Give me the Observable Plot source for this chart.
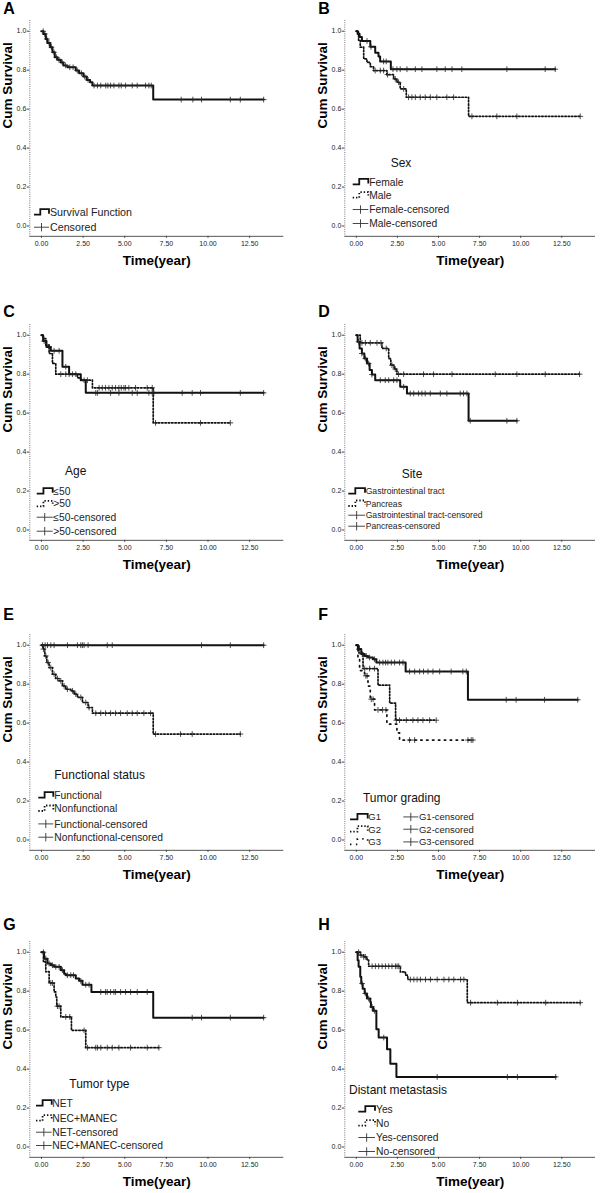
<!DOCTYPE html>
<html><head><meta charset="utf-8">
<script src="https://cdn.jsdelivr.net/npm/d3@7"></script>
<script src="https://cdn.jsdelivr.net/npm/@observablehq/plot@0.6"></script>
<style>
body{margin:0;background:#fff;overflow:hidden}
#root{position:relative;width:600px;height:1193px;overflow:hidden;background:#fff}
.panel{position:absolute}
</style></head><body><div id="root"></div>
<script>
// ---------- axes ----------
const xTicks = [0, 2.5, 5, 7.5, 10, 12.5];
const yTicks = [0, 0.2, 0.4, 0.6, 0.8, 1.0];
const xDomain = [-0.7, 14.55];
const yDomain = [-0.053, 1.055];

// ---------- Panel A: all patients ----------
const A_all_time = [0, 0.12, 0.26, 0.36, 0.52, 0.66, 0.80, 0.96, 1.16, 1.32, 1.56, 2.06, 2.26, 2.52, 2.72, 2.92, 3.06, 6.71];
const A_all_surv = [1.0, 0.986, 0.96, 0.94, 0.918, 0.892, 0.866, 0.853, 0.84, 0.824, 0.815, 0.798, 0.784, 0.767, 0.75, 0.738, 0.721, 0.649];
const A_all_cens = [0.1, 0.2, 0.32, 0.45, 0.6, 0.75, 0.9, 1.05, 1.25, 1.45, 1.7, 1.9, 2.15, 2.4, 2.6, 2.8, 3.16, 3.36, 3.56, 3.86, 3.99, 4.15, 4.35, 4.65, 4.79, 5.05, 5.45, 5.75, 6.25, 6.45, 6.59, 8.39, 9.09, 9.61, 11.34, 11.94, 13.34];

// ---------- Panel B: sex ----------
const B_female_time = [0, 0.08, 0.2, 0.34, 0.85, 1.15, 1.35, 1.45, 2.1];
const B_female_surv = [1.0, 0.986, 0.97, 0.95, 0.92, 0.89, 0.87, 0.845, 0.805];
const B_female_cens = [0.65, 0.89, 1.66, 1.82, 2.23, 2.47, 2.67, 3.08, 3.59, 3.99, 4.9, 5.41, 5.82, 6.42, 9.16, 11.49, 12.1];
const B_male_time = [0, 0.14, 0.24, 0.45, 0.65, 0.85, 1.05, 1.86, 2.27, 2.47, 2.67, 3.04, 6.83];
const B_male_surv = [1.0, 0.952, 0.918, 0.858, 0.84, 0.818, 0.798, 0.777, 0.755, 0.738, 0.704, 0.661, 0.563];
const B_male_cens = [1.15, 1.46, 1.66, 1.9, 2.37, 2.57, 2.88, 3.18, 3.38, 3.59, 3.89, 4.19, 4.5, 4.9, 5.51, 5.92, 7.03, 8.55, 9.77, 13.62];

// ---------- Panel C: age ----------
const C_le50_time = [0, 0.1, 0.3, 0.56, 1.26, 1.66, 2.36, 2.66];
const C_le50_surv = [1.0, 0.97, 0.94, 0.92, 0.838, 0.80, 0.769, 0.704];
const C_le50_cens = [0.16, 0.46, 0.76, 1.06, 1.46, 2.06, 3.26, 3.36, 4.15, 4.65, 5.45, 5.75, 6.45, 6.65, 6.75, 8.45, 9.05, 9.55, 11.94, 13.34];
const C_gt50_time = [0, 0.12, 0.26, 0.46, 0.66, 0.86, 2.16, 2.36, 3.06, 6.71];
const C_gt50_surv = [1.0, 0.983, 0.949, 0.906, 0.855, 0.80, 0.781, 0.769, 0.73, 0.55];
const C_gt50_cens = [1.16, 1.46, 1.66, 1.86, 2.56, 2.76, 3.46, 3.65, 3.85, 4.05, 4.25, 4.45, 4.65, 4.79, 4.95, 5.05, 5.25, 5.65, 6.35, 6.65, 6.85, 9.55, 11.34];

// ---------- Panel D: site ----------
const D_gi_time = [0, 0.08, 0.2, 0.34, 0.49, 0.65, 0.81, 0.95, 1.15, 2.67, 3.08, 6.83];
const D_gi_surv = [1.0, 0.966, 0.932, 0.906, 0.88, 0.855, 0.821, 0.798, 0.769, 0.735, 0.701, 0.561];
const D_gi_cens = [0.14, 0.34, 0.55, 0.75, 0.95, 1.46, 1.76, 1.97, 2.27, 2.47, 2.88, 3.28, 3.49, 3.79, 3.99, 4.19, 4.5, 5.11, 5.51, 6.32, 6.52, 6.73, 6.93, 9.16, 9.77];
const D_panc_time = [0, 0.24, 1.56, 1.97, 2.1, 2.3, 2.47];
const D_panc_surv = [1.0, 0.961, 0.932, 0.88, 0.846, 0.826, 0.80];
const D_panc_cens = [0.34, 0.55, 0.85, 1.26, 1.5, 1.82, 2.17, 2.37, 2.57, 2.88, 4.09, 4.7, 5.82, 8.45, 9.77, 11.49, 13.58];

// ---------- Panel E: functional status ----------
const E_func_time = [0];
const E_func_surv = [1.0];
const E_func_cens = [0.06, 0.22, 0.36, 0.56, 0.76, 1.56, 2.16, 2.36, 2.46, 2.56, 2.8, 3.95, 4.25, 9.61, 11.34, 13.34];
const E_nonf_time = [0, 0.1, 0.2, 0.32, 0.46, 0.66, 0.86, 1.06, 1.26, 1.46, 1.76, 1.96, 2.16, 2.46, 2.8, 3.06, 6.71];
const E_nonf_surv = [1.0, 0.98, 0.945, 0.911, 0.885, 0.851, 0.829, 0.817, 0.791, 0.774, 0.766, 0.749, 0.732, 0.706, 0.68, 0.651, 0.544];
const E_nonf_cens = [0.12, 0.26, 0.4, 0.56, 0.76, 0.96, 1.16, 1.36, 1.56, 1.86, 2.06, 2.36, 2.66, 2.86, 3.26, 3.56, 3.85, 4.15, 4.45, 4.75, 5.15, 5.45, 5.75, 6.15, 6.55, 6.85, 8.35, 9.05, 11.94];

// ---------- Panel F: tumor grading ----------
const F_g1_time = [0, 0.1, 0.3, 0.51, 0.71, 1.01, 1.22, 3.0, 6.79];
const F_g1_surv = [1.0, 0.98, 0.955, 0.945, 0.937, 0.928, 0.911, 0.865, 0.72];
const F_g1_cens = [0.16, 0.36, 0.61, 0.81, 1.11, 1.42, 1.62, 1.78, 1.92, 2.13, 2.33, 2.63, 2.84, 3.24, 3.55, 3.85, 4.09, 4.36, 4.66, 5.07, 5.77, 6.48, 6.69, 9.12, 9.72, 11.45, 13.47];
const F_g2_time = [0, 0.16, 0.41, 1.32, 2.03, 2.39];
const F_g2_surv = [1.0, 0.96, 0.88, 0.795, 0.703, 0.615];
const F_g2_cens = [0.51, 0.81, 1.11, 2.43, 2.63, 3.04, 3.44, 3.75, 4.05, 4.46, 4.86];
const F_g3_time = [0, 0.1, 0.2, 0.5, 0.71, 0.85, 1.11, 1.86, 2.47, 2.63];
const F_g3_surv = [1.0, 0.93, 0.87, 0.843, 0.79, 0.723, 0.668, 0.595, 0.55, 0.513];
const F_g3_cens = [0.58, 0.66, 0.91, 1.02, 1.32, 1.6, 1.8, 3.24, 3.55, 6.79, 6.99, 7.09];

// ---------- Panel G: tumor type ----------
const G_net_time = [0, 0.16, 0.36, 0.56, 0.76, 1.16, 1.36, 1.46, 2.06, 2.26, 2.46, 3.0, 6.71];
const G_net_surv = [1.0, 0.967, 0.942, 0.933, 0.925, 0.908, 0.89, 0.882, 0.865, 0.853, 0.833, 0.796, 0.664];
const G_net_cens = [0.12, 0.26, 0.46, 0.66, 0.86, 1.06, 1.26, 1.56, 1.76, 1.92, 2.36, 2.66, 2.86, 3.56, 3.85, 3.95, 4.15, 4.35, 4.45, 4.75, 5.05, 5.35, 5.75, 6.35, 9.05, 9.61, 11.34, 13.34];
const G_nec_time = [0, 0.12, 0.26, 0.46, 0.76, 0.86, 0.92, 1.16, 1.8, 2.66];
const G_nec_surv = [1.0, 0.95, 0.9, 0.842, 0.796, 0.77, 0.723, 0.668, 0.599, 0.51];
const G_nec_cens = [0.56, 0.66, 0.96, 1.06, 1.46, 1.7, 2.56, 2.76, 3.26, 3.36, 3.56, 3.95, 4.25, 4.65, 5.35, 6.35, 7.05];

// ---------- Panel H: distant metastasis ----------
const H_yes_time = [0, 0.08, 0.14, 0.24, 0.3, 0.39, 0.51, 0.65, 0.85, 0.89, 1.02, 1.22, 1.36, 1.87, 2.07, 2.44];
const H_yes_surv = [1.0, 0.959, 0.925, 0.874, 0.839, 0.813, 0.788, 0.762, 0.745, 0.719, 0.699, 0.604, 0.562, 0.502, 0.428, 0.36];
const H_yes_cens = [0.35, 0.55, 0.75, 0.96, 1.1, 1.67, 4.92, 9.19, 9.8, 12.13];
const H_no_time = [0, 0.24, 0.45, 0.65, 0.75, 2.68, 2.99, 3.13, 6.75];
const H_no_surv = [1.0, 0.985, 0.976, 0.959, 0.928, 0.899, 0.882, 0.86, 0.741];
const H_no_cens = [0.14, 0.28, 0.45, 0.55, 0.96, 1.16, 1.36, 1.57, 1.77, 1.97, 2.17, 2.38, 2.48, 2.58, 3.29, 3.5, 3.7, 3.9, 4.21, 4.51, 4.92, 5.33, 5.63, 5.93, 6.34, 6.54, 6.95, 8.58, 9.8, 11.52, 13.62];

// ---------- labels ----------
const panelLetters = ["A", "B", "C", "D", "E", "F", "G", "H"];
const legendTitles = [null, "Sex", "Age", "Site", "Functional status", "Tumor grading", "Tumor type", "Distant metastasis"];
const yLabel = "Cum Survival";
const xLabel = "Time(year)";

const panels = [
  {series: [{label: "Survival Function", censLabel: "Censored", time: A_all_time, surv: A_all_surv, cens: A_all_cens, style: "solid"}]},
  {series: [
    {label: "Female", time: B_female_time, surv: B_female_surv, cens: B_female_cens, style: "solid"},
    {label: "Male", time: B_male_time, surv: B_male_surv, cens: B_male_cens, style: "dotted"}]},
  {series: [
    {label: "≤50", time: C_le50_time, surv: C_le50_surv, cens: C_le50_cens, style: "solid"},
    {label: ">50", time: C_gt50_time, surv: C_gt50_surv, cens: C_gt50_cens, style: "dotted"}]},
  {series: [
    {label: "Gastrointestinal tract", time: D_gi_time, surv: D_gi_surv, cens: D_gi_cens, style: "solid"},
    {label: "Pancreas", time: D_panc_time, surv: D_panc_surv, cens: D_panc_cens, style: "dotted"}]},
  {series: [
    {label: "Functional", time: E_func_time, surv: E_func_surv, cens: E_func_cens, style: "solid"},
    {label: "Nonfunctional", time: E_nonf_time, surv: E_nonf_surv, cens: E_nonf_cens, style: "dotted"}]},
  {series: [
    {label: "G1", time: F_g1_time, surv: F_g1_surv, cens: F_g1_cens, style: "solid"},
    {label: "G2", time: F_g2_time, surv: F_g2_surv, cens: F_g2_cens, style: "dotted"},
    {label: "G3", time: F_g3_time, surv: F_g3_surv, cens: F_g3_cens, style: "sparse"}]},
  {series: [
    {label: "NET", time: G_net_time, surv: G_net_surv, cens: G_net_cens, style: "solid"},
    {label: "NEC+MANEC", time: G_nec_time, surv: G_nec_surv, cens: G_nec_cens, style: "dotted"}]},
  {series: [
    {label: "Yes", time: H_yes_time, surv: H_yes_surv, cens: H_yes_cens, style: "solid"},
    {label: "No", time: H_no_time, surv: H_no_surv, cens: H_no_cens, style: "dotted"}]}
];

// ---------- layout / styling ----------
const FONT = "'Liberation Sans', Arial, Helvetica, sans-serif";
const PX = 194.8;                 // pixels per unit of survival
const rowY1 = [30.7, 335, 644.3, 951.7];
const letterDy = [-6, -7.5, -14.6, -11];
const colLeft = [0, 300], colML = [29.3, 44.3], colMR = [16.7, 5];
const MT = 30, MB = 40;
const lineStyles = {
  solid: {dash: null, width: 2},
  dotted: {dash: "1.4,1.9", width: 1.7},
  sparse: {dash: "1.4,4.5", width: 1.7}
};
const legendLayout = [
  {rows: [-13.3, 1.7], symX: 4.7, symW: 15, textX: 20.7, fs: 10.7},
  {title: [46.4, -63], rows: [-43.6, -30.3, -16, -2], symX: 8.4, symW: 15.6, textX: 25, fs: 10.3},
  {title: [35.7, -58.3], rows: [-38.3, -25.7, -12.3, 1.7], symX: 7.4, symW: 16, textX: 24, fs: 10.3},
  {title: [57.4, -55.7], rows: [-38.3, -26, -14.3, -3.3], symX: 4, symW: 16.7, textX: 21.4, fs: 8.6},
  {title: [25, -64.3], rows: [-44.3, -31, -15.6, -2.3], symX: 9, symW: 15, textX: 25, fs: 10.3},
  {title: [18.7, -42], rows: [-22.6, -10.3, 2.4], cols: [{symX: 5.7, symW: 17.7, textX: 24}, {symX: 59, symW: 15, textX: 74.7}], fs: 9.5},
  {title: [40, -62.3], rows: [-43.3, -28.3, -14.3, -1], symX: 6.7, symW: 15.7, textX: 23, fs: 10.3},
  {title: [4.7, -56.6], rows: [-37.3, -23.3, -9, 5], symX: 14, symW: 16.7, textX: 31.7, fs: 10.3}
];

function stepData(s) {
  const pts = s.time.map((t, i) => ({t, s: s.surv[i]}));
  const end = Math.max(d3.max(s.cens), d3.max(s.time));
  pts.push({t: end, s: s.surv[s.surv.length - 1]});
  return pts;
}
function censData(s) {
  return s.cens.map(t => {
    const i = Math.max(0, d3.bisectRight(s.time, t) - 1);
    return {t, s: s.surv[i]};
  });
}

function drawLineSym(g, x, y, w, style) {
  const st = lineStyles[style];
  g.append("path")
    .attr("d", `M${x},${y + 2.5}H${x + w * 0.42}V${y - 3}H${x + w}V${y + 1.5}`)
    .attr("fill", "none").attr("stroke", "#111")
    .attr("stroke-width", 1.8)
    .attr("stroke-dasharray", st.dash);
}
function drawCensSym(g, x, y, w) {
  g.append("path")
    .attr("d", `M${x},${y}H${x + w}M${x + w / 2},${y - 4.2}V${y + 4.2}`)
    .attr("fill", "none").attr("stroke", "#333").attr("stroke-width", 0.9);
}

function legendMark(pi) {
  const L = legendLayout[pi];
  const series = panels[pi].series;
  const title = legendTitles[pi];
  return function(index, scales) {
    const fx = scales.x(xDomain[0]);
    const fy = scales.y(0);
    const g = d3.create("svg:g").attr("font-family", FONT).attr("fill", "#222").attr("text-anchor", "start");
    if (title) {
      g.append("text").attr("x", fx + L.title[0]).attr("y", fy + L.title[1])
        .attr("dy", "0.35em").attr("font-size", 12).attr("fill", "#111").text(title);
    }
    const items = [];
    series.forEach(s => items.push({kind: "line", s, text: s.label}));
    series.forEach(s => items.push({kind: "cens", s, text: s.censLabel || (s.label + "-censored")}));
    items.forEach((it, k) => {
      let col, row;
      if (L.cols) { col = L.cols[it.kind === "line" ? 0 : 1]; row = L.rows[k % series.length]; }
      else { col = L; row = L.rows[k]; }
      const y = fy + row;
      if (it.kind === "line") drawLineSym(g, fx + col.symX, y, col.symW, it.s.style);
      else drawCensSym(g, fx + col.symX, y, col.symW);
      g.append("text").attr("x", fx + col.textX).attr("y", y).attr("dy", "0.35em")
        .attr("font-size", L.fs).text(it.text);
    });
    return g.node();
  };
}

const root = document.getElementById("root");
panels.forEach((p, pi) => {
  const col = pi % 2, row = Math.floor(pi / 2);
  const height = MT + MB + (yDomain[1] - yDomain[0]) * PX;
  const top = rowY1[row] - (yDomain[1] - 1) * PX - MT;
  const marks = [
    Plot.ruleX([xDomain[0]], {stroke: "#777", strokeDasharray: "1,1.2", strokeWidth: 1}),
    Plot.ruleY([yDomain[0]], {stroke: "#555", strokeWidth: 1}),
    Plot.axisY(yTicks, {tickFormat: d3.format(".1f"), tickSize: 2.5, tickPadding: 1, fontSize: 7, label: null, stroke: "#444"}),
    Plot.axisX(xTicks, {tickFormat: d3.format(".2f"), tickSize: 2, tickPadding: 2.5, fontSize: 7, label: null, stroke: "#444"})
  ];
  p.series.forEach(s => {
    const st = lineStyles[s.style];
    marks.push(Plot.line(stepData(s), {x: "t", y: "s", curve: "step-after", stroke: "#111", strokeWidth: st.width, strokeDasharray: st.dash}));
  });
  p.series.forEach(s => {
    marks.push(Plot.dot(censData(s), {x: "t", y: "s", symbol: "plus", r: 2, stroke: "#222", strokeWidth: 0.8}));
  });
  marks.push(Plot.text([panelLetters[pi]], {text: d => d, frameAnchor: "top-left", dx: -26.5, dy: letterDy[row], textAnchor: "start", lineAnchor: "bottom", fontSize: 16, fontWeight: "bold", fill: "#000"}));
  marks.push(Plot.text([yLabel], {text: d => d, frameAnchor: "left", dx: -22, rotate: -90, fontSize: 13.5, fontWeight: "bold", fill: "#000"}));
  marks.push(Plot.text([xLabel], {text: d => d, frameAnchor: "bottom", dy: 28.4, fontSize: 13.5, fontWeight: "bold", fill: "#000"}));
  marks.push(legendMark(pi));

  const svg = Plot.plot({
    width: 300,
    height,
    marginTop: MT,
    marginBottom: MB,
    marginLeft: colML[col],
    marginRight: colMR[col],
    x: {domain: xDomain},
    y: {domain: yDomain},
    style: {fontFamily: FONT, fontSize: "7px", color: "#222", background: "transparent", overflow: "visible"},
    marks
  });
  const div = document.createElement("div");
  div.className = "panel";
  div.style.left = colLeft[col] + "px";
  div.style.top = top + "px";
  div.appendChild(svg);
  root.appendChild(div);
});
</script></body></html>
